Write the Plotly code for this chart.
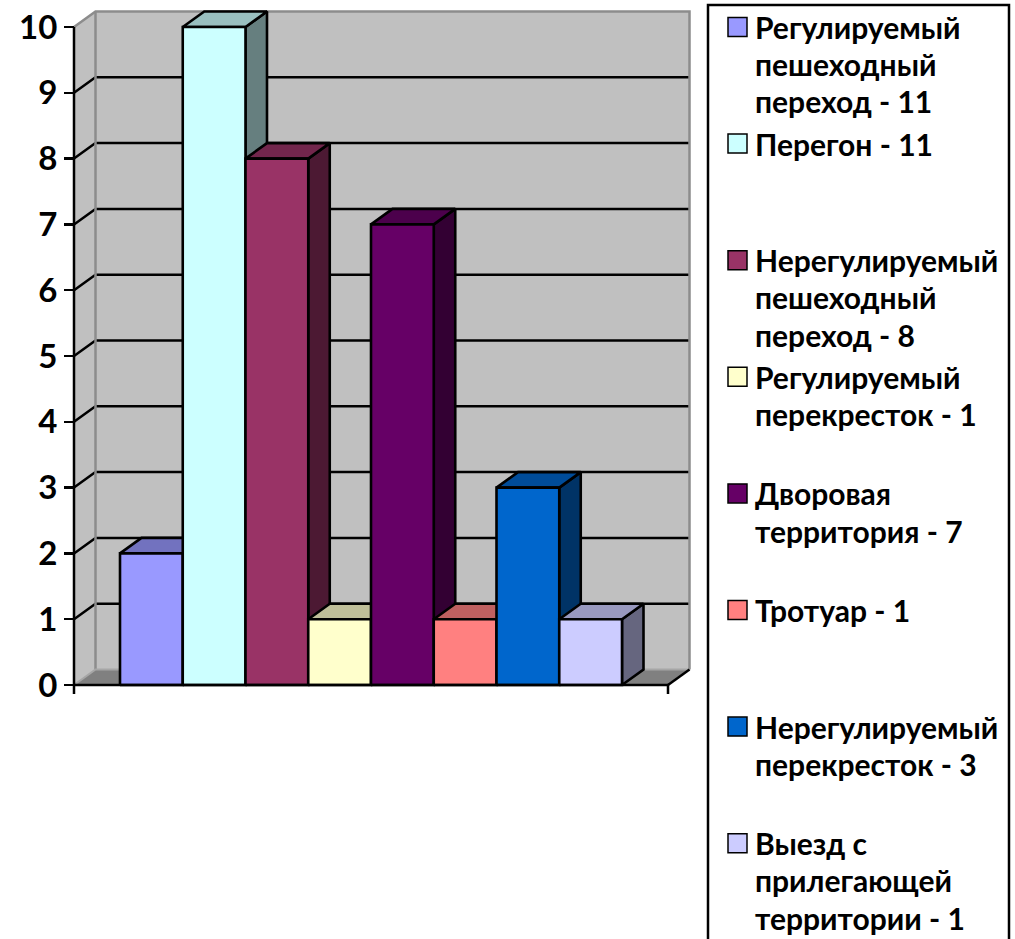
import plotly.graph_objects as go

# ---------------- data ----------------
categories = [
    "Регулируемый пешеходный переход - 11",
    "Перегон - 11",
    "Нерегулируемый пешеходный переход - 8",
    "Регулируемый перекресток - 1",
    "Дворовая территория - 7",
    "Тротуар - 1",
    "Нерегулируемый перекресток - 3",
    "Выезд с прилегающей территории - 1",
]
legend_lines = [
    ["Регулируемый", "пешеходный", "переход - 11"],
    ["Перегон - 11"],
    ["Нерегулируемый", "пешеходный", "переход - 8"],
    ["Регулируемый", "перекресток - 1"],
    ["Дворовая", "территория - 7"],
    ["Тротуар - 1"],
    ["Нерегулируемый", "перекресток - 3"],
    ["Выезд с", "прилегающей", "территории - 1"],
]
values = [2, 10, 8, 1, 7, 1, 3, 1]
colors = ["#9999FF", "#CCFFFF", "#993366", "#FFFFCC",
          "#660066", "#FF8080", "#0066CC", "#CCCCFF"]
y_ticks = list(range(0, 11))

# ---------------- geometry (pixels -> data) ----------------
OFF = 0                         # page body margin (removed via post_script)
W, H = 1015, 939
L_PX, R_PX, T_PX, B_PX = 64 - OFF, 697 - OFF, 2, 700 - OFF
PW, PH = R_PX - L_PX, B_PX - T_PX
SX, SY = 62.75, 65.8            # px per category / per unit
X0_PX, Y0_PX = 120 - OFF, 685 - OFF
x_lo = (L_PX - X0_PX) / SX
x_hi = x_lo + PW / SX
y_lo = -(B_PX - Y0_PX) / SY
y_hi = (Y0_PX - T_PX) / SY

MARGIN = 0.733
XL, XR = -MARGIN, len(values) + MARGIN
YMAX = 10
DX, DY = 21.5 / SX, 15.5 / SY


def shade(hexc, f):
    h = hexc.lstrip("#")
    r, g, b = (int(h[i:i + 2], 16) for i in (0, 2, 4))
    return "#%02X%02X%02X" % (int(r * f), int(g * f), int(b * f))


def px_x(p):
    return (p - OFF - L_PX) / PW


def px_y(p):
    return (B_PX - (p - OFF)) / PH


fig = go.Figure()


def poly(xs, ys, fill, line_color="black", width=2.6):
    fig.add_trace(go.Scatter(
        x=xs, y=ys, mode="lines", fill="toself", fillcolor=fill,
        line=dict(color=line_color, width=width),
        hoverinfo="skip", showlegend=False))


def lines(xs, ys, color, width=2.5):
    fig.add_trace(go.Scatter(
        x=xs, y=ys, mode="lines", line=dict(color=color, width=width),
        hoverinfo="skip", showlegend=False))


# walls
poly([XL + DX, XR + DX, XR + DX, XL + DX, XL + DX],
     [DY, DY, YMAX + DY, YMAX + DY, DY], "#C0C0C0", "#C0C0C0", 0.1)
poly([XL, XL + DX, XL + DX, XL, XL],
     [0, DY, YMAX + DY, YMAX, 0], "#C0C0C0", "#C0C0C0", 0.1)
# floor
poly([XL, XL + DX, XR + DX, XR, XL], [0, DY, DY, 0, 0], "#808080", "#808080", 0.1)

# gridlines
gx, gy = [], []
for k in y_ticks[1:-1]:
    gx += [XL, XL + DX, XR + DX, None]
    gy += [k, k + DY, k + DY, None]
lines(gx, gy, "black", 2.5)

# wall borders
lines([XL, XL + DX, XR + DX, XR + DX], [YMAX, YMAX + DY, YMAX + DY, DY], "#8C8C8C", 2.5)
lines([XL + DX, XL + DX], [YMAX + DY, DY], "#8C8C8C", 2.5)
lines([XL, XL + DX, XR + DX], [0, DY, DY], "#A6A6A6", 2)
lines([XR, XR + DX], [0, DY], "black", 2.5)

# bars
for i, (v, c) in enumerate(zip(values, colors)):
    a, b = i, i + 1
    poly([b, b + DX, b + DX, b, b], [0, DY, v + DY, v, 0], shade(c, 0.5))
    poly([a, a + DX, b + DX, b, a], [v, v + DY, v + DY, v, v], shade(c, 0.75))
    poly([a, b, b, a, a], [0, 0, v, v, 0], c)

# front axes
lines([XL, XL, None, XL, XR, XR], [YMAX, -0.137, None, 0, 0, -0.137], "black", 2.5)

# legend
shapes = [dict(type="rect", xref="paper", yref="paper",
               x0=px_x(708), x1=px_x(1009), y0=px_y(980), y1=px_y(5),
               line=dict(color="black", width=2.5), fillcolor="white", layer="below")]
annotations = []
SLOT0, SLOT, LINE = 27, 116.6, 37.2
for k, (lbl, c) in enumerate(zip(legend_lines, colors)):
    top = SLOT0 + SLOT * k
    shapes.append(dict(type="rect", xref="paper", yref="paper",
                       x0=px_x(728), x1=px_x(747), y0=px_y(top + 9.5), y1=px_y(top - 9.5),
                       line=dict(color="black", width=1.5), fillcolor=c))
    for j, t in enumerate(lbl):
        annotations.append(dict(
            xref="paper", yref="paper", x=px_x(753), y=px_y(top + LINE * j),
            xanchor="left", yanchor="middle", showarrow=False, text=t,
            font=dict(family="Lato", size=30, color="black", weight="bold")))

fig.update_layout(
    width=W, height=H,
    margin=dict(l=L_PX, r=W - R_PX, t=T_PX, b=H - B_PX, pad=0),
    paper_bgcolor="white", plot_bgcolor="white",
    showlegend=False,
    xaxis=dict(range=[x_lo, x_hi], visible=False, fixedrange=True),
    yaxis=dict(range=[y_lo, y_hi], anchor="free", position=(74 - 64) / PW,
               tickvals=y_ticks, ticktext=[str(t) for t in y_ticks],
               ticks="outside", ticklen=10, tickwidth=2.5, tickcolor="black",
               showgrid=False, zeroline=False, showline=False,
               ticklabeloverflow="allow",
               tickfont=dict(family="Lato", size=33, color="black", weight="bold"),
               fixedrange=True),
    shapes=shapes, annotations=annotations,
)

fig.write_html(
    "out.html",
    config={"displayModeBar": False, "staticPlot": True},
    post_script="document.body.style.margin='0';document.body.style.overflow='hidden';",
)
